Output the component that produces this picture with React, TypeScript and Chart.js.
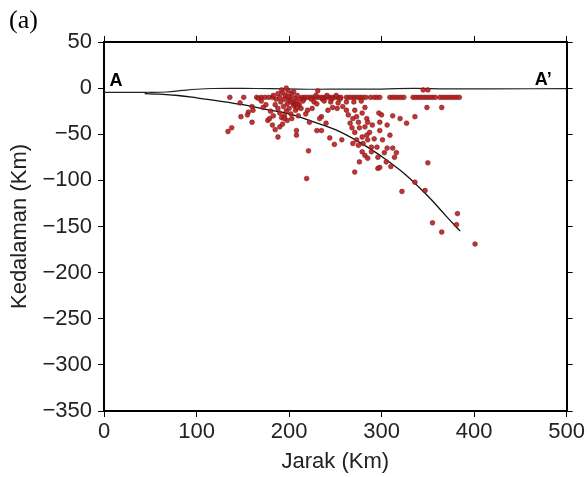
import React, { useEffect, useRef } from "react";
import { Chart, registerables } from "chart.js";

Chart.register(...registerables);

const xTicks = [0, 100, 200, 300, 400, 500];
const yTicks = [50, 0, -50, -100, -150, -200, -250, -300, -350];

// Surface (top line)
const surfaceKm = [0, 45, 68, 85, 100, 118, 150, 180, 220, 260, 300, 335, 370, 420, 500];
const surfaceDepth = [-4.5, -4.5, -4.2, -2.5, -1.2, -0.4, -0.3, -0.6, -1.2, -1.1, -1.0, -0.3, -0.9, -0.8, -0.6];

// Slab interface
const slabKm = [44, 60, 80, 100, 125, 150, 175, 200, 225, 250, 275, 300, 325, 350, 370, 385];
const slabDepth = [-6, -6.5, -8, -10.5, -14, -18, -23, -28, -36, -45, -58, -74, -93, -117, -139, -155];

// Earthquake hypocentres [distance km, depth km]
const quakes: [number, number][] = [
  // fixed-depth band (~10 km)
  [165, -10], [170, -10], [174, -10], [178, -10], [182, -10], [214, -10], [217, -10], [220, -10],
  [223, -10], [226, -10], [229, -10], [232, -10], [235, -10], [238, -10], [241, -10], [244, -10],
  [247, -10], [250, -10], [253, -10], [256, -10], [262, -10], [265, -10], [268, -10], [271, -10],
  [274, -10], [277, -10], [280, -10], [283, -10], [288, -10], [292, -10], [295, -10], [298, -10],
  [309, -10], [312, -10], [315, -10], [318, -10], [321, -10], [324, -10], [334, -10], [337, -10],
  [340, -10], [343, -10], [346, -10], [349, -10], [352, -10], [355, -10], [358, -10], [363, -10],
  [366, -10], [369, -10], [372, -10], [375, -10], [378, -10], [381, -10], [384, -10],
  [216, -12], [224, -12], [236, -12], [246, -12], [255, -12], [229, -8], [241, -8], [251, -8],
  // dense cluster
  [183, -8], [186, -12], [188, -6], [190, -10], [191, -15], [193, -5], [194, -20], [195, -12],
  [196, -8], [197, -25], [198, -17], [199, -3], [200, -13], [200, -22], [201, -10], [202, -28],
  [203, -6], [204, -16], [205, -19], [206, -11], [207, -24], [208, -14], [209, -8], [210, -30],
  [211, -18], [212, -12], [213, -22], [185, -18], [188, -22], [190, -27], [192, -32], [195, -30],
  [198, -35], [203, -33], [192, -2], [197, 0], [205, -4], [199, -9], [202, -15], [207, -18],
  // left scattered
  [134, -47], [138, -43], [136, -10], [151, -10], [147, -16], [160, -20], [161, -24], [156, -26],
  [155, -29], [148, -31], [160, -37], [167, -11], [172, -21], [177, -35], [179, -33], [188, -53],
  [190, -42], [193, -39], [195, -33], [170, -14], [175, -18], [180, -25], [182, -40], [185, -45],
  [183, -30],
  // middle
  [208, -46], [208, -51], [209, -18], [209, -21], [220, -24], [225, -22], [227, -15], [230, -17],
  [242, -24], [247, -21], [252, -22], [253, -16], [235, -31], [233, -33], [222, -37], [230, -46],
  [235, -46], [244, -54], [249, -61], [257, -56], [221, -68], [219, -98], [231, -3], [215, -14],
  [218, -28], [238, -14], [245, -15], [258, -20], [240, -38],
  // 260-290
  [262, -24], [264, -29], [271, -24], [269, -33], [273, -31], [279, -27], [282, -21], [284, -33],
  [275, -37], [266, -38], [268, -43], [271, -48], [276, -43], [282, -42], [285, -37], [287, -48],
  [284, -51], [279, -53], [273, -56], [269, -60], [275, -62], [280, -60], [285, -56], [289, -64],
  [279, -69], [282, -73], [276, -80], [285, -76], [289, -69], [271, -91], [296, -87], [262, -15],
  [270, -15], [278, -14],
  // 290-370
  [290, -40], [298, -37], [300, -29], [306, -40], [298, -46], [309, -51], [301, -56], [295, -64],
  [306, -65], [312, -65], [303, -70], [314, -75], [298, -86], [312, -30], [320, -33], [327, -38],
  [336, -31], [365, -21], [345, -2], [350, -2], [350, -81], [292, -55], [296, -75], [305, -80],
  [310, -85], [316, -70], [297, -27], [349, -21],
  // deep
  [322, -112], [336, -102], [347, -111], [355, -146], [365, -156], [382, -136], [381, -148], [401, -169],
];

const FONT = "'Liberation Sans', Arial, Helvetica, sans-serif";

const textPlugin = {
  id: "labelsText",
  afterDraw(chart: any) {
    const ctx = chart.ctx;
    const xs = chart.scales.x;
    const ys = chart.scales.y;
    ctx.save();
    ctx.fillStyle = "#000";
    ctx.font = `26px 'Liberation Serif', 'Times New Roman', serif`;
    ctx.textAlign = "left";
    ctx.textBaseline = "alphabetic";
    ctx.fillText("(a)", 9, 28);
    ctx.font = `bold 18px ${FONT}`;
    ctx.fillText("A", xs.getPixelForValue(6), ys.getPixelForValue(2));
    ctx.textAlign = "right";
    ctx.fillText("A\u2019", xs.getPixelForValue(484), ys.getPixelForValue(3));
    ctx.restore();
  },
};

export default function App() {
  const ref = useRef<HTMLCanvasElement>(null);
  useEffect(() => {
    if (!ref.current) return;
    const tickFont = { family: FONT, size: 22 };
    const axisBorder = { display: true, color: "#000", width: 2 };
    const grid = { drawOnChartArea: false, drawTicks: true, tickLength: 6, color: "#000", lineWidth: 1 };
    const chart = new Chart(ref.current, {
      type: "scatter",
      data: {
        datasets: [
          {
            label: "quakes",
            data: quakes.map(([x, y]) => ({ x, y })),
            pointRadius: 2.4,
            pointBackgroundColor: "rgba(190,30,30,0.9)",
            pointBorderColor: "rgba(115,20,20,0.9)",
            pointBorderWidth: 0.6,
            showLine: false,
          },
          {
            label: "surface",
            data: surfaceKm.map((x, i) => ({ x, y: surfaceDepth[i] })),
            showLine: true,
            borderColor: "#222",
            borderWidth: 1.2,
            pointRadius: 0,
            tension: 0.4,
          },
          {
            label: "slab",
            data: slabKm.map((x, i) => ({ x, y: slabDepth[i] })),
            showLine: true,
            borderColor: "#111",
            borderWidth: 1.3,
            pointRadius: 0,
            tension: 0.4,
          },
        ],
      },
      options: {
        animation: false,
        responsive: false,
        layout: { padding: 0 },
        plugins: { legend: { display: false }, tooltip: { enabled: false } },
        scales: {
          x: {
            type: "linear",
            position: "bottom",
            min: 0,
            max: 500,
            afterBuildTicks: (s: any) => { s.ticks = xTicks.map((v) => ({ value: v })); },
            afterFit: (s: any) => { s.height = 66; },
            ticks: { font: tickFont, color: "#222", padding: 2, maxRotation: 0 },
            grid,
            border: axisBorder,
            title: { display: true, text: "Jarak (Km)", font: { family: FONT, size: 22 }, color: "#222", padding: { top: 0, bottom: 2 } },
          },
          x2: {
            type: "linear",
            position: "top",
            min: 0,
            max: 500,
            afterBuildTicks: (s: any) => { s.ticks = xTicks.map((v) => ({ value: v })); },
            afterFit: (s: any) => { s.height = 42; },
            ticks: { display: false },
            grid,
            border: axisBorder,
          },
          y: {
            type: "linear",
            position: "left",
            min: -350,
            max: 50,
            afterBuildTicks: (s: any) => { s.ticks = yTicks.map((v) => ({ value: v })); },
            afterFit: (s: any) => { s.width = 104; },
            ticks: { font: tickFont, color: "#222", padding: 6, callback: (v: any) => (v < 0 ? "\u2212" + Math.abs(v) : String(v)) },
            grid,
            border: axisBorder,
            title: { display: true, text: "Kedalaman (Km)", font: { family: FONT, size: 22 }, color: "#222", padding: { top: 7, bottom: 0 } },
          },
          y2: {
            type: "linear",
            position: "right",
            min: -350,
            max: 50,
            afterBuildTicks: (s: any) => { s.ticks = yTicks.map((v) => ({ value: v })); },
            afterFit: (s: any) => { s.width = 20; },
            ticks: { display: false },
            grid,
            border: axisBorder,
          },
        },
      },
      plugins: [textPlugin],
    } as any);
    return () => chart.destroy();
  }, []);
  return (
    <div style={{ position: "fixed", left: 0, top: 0, width: 587, height: 477, background: "#fff" }}>
      <canvas ref={ref} width={587} height={477} style={{ display: "block" }} />
    </div>
  );
}
